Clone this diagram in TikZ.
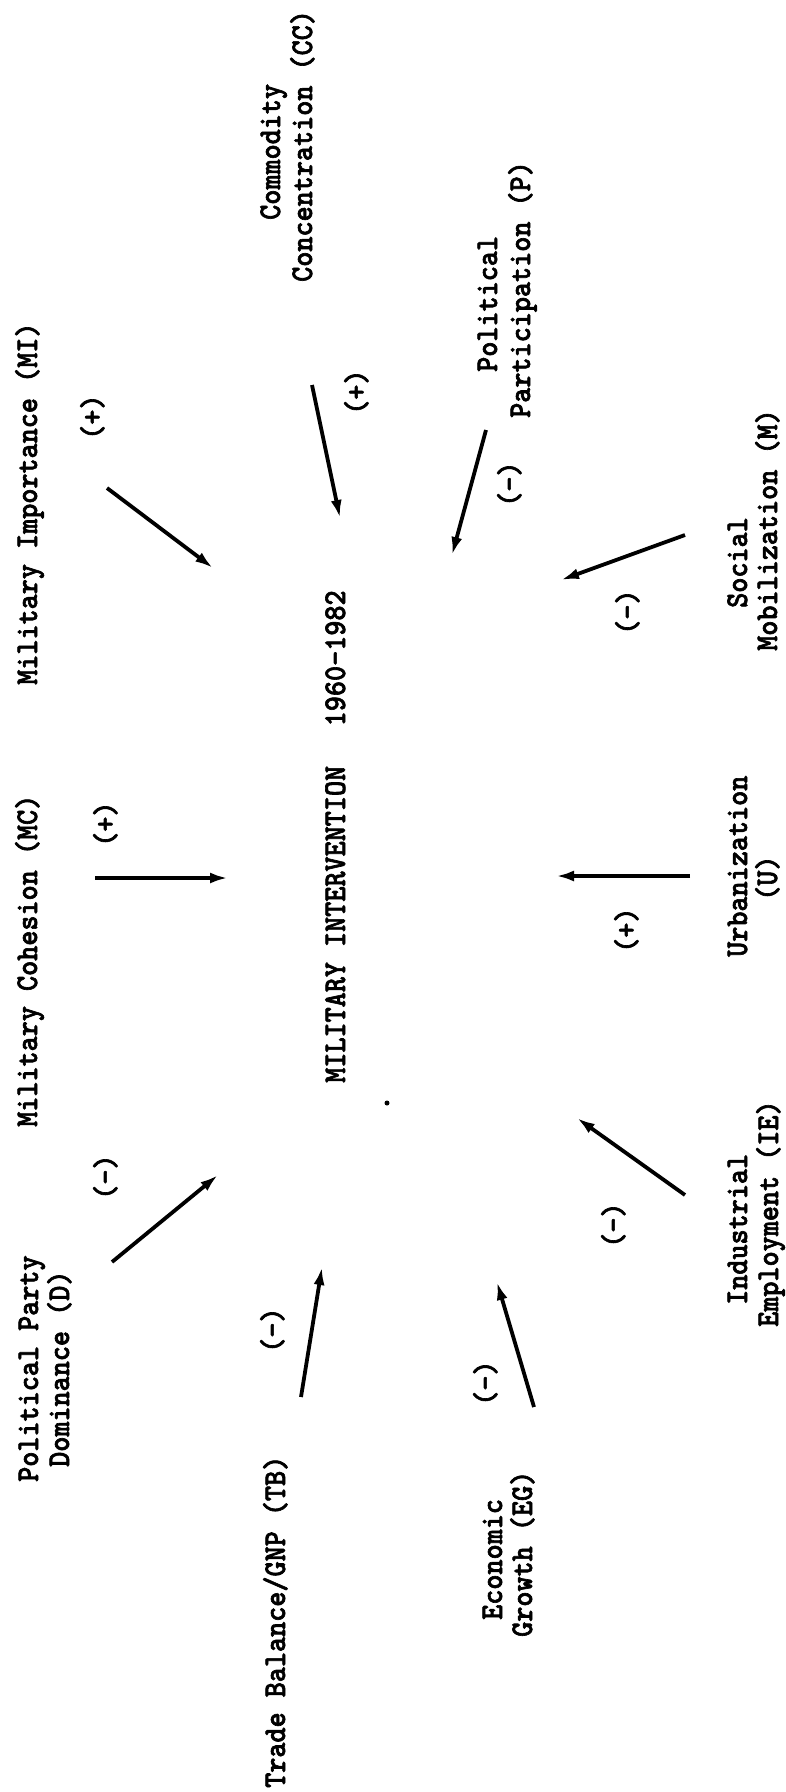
\documentclass[tikz,border=0pt]{standalone}
\usepackage{fontspec}
\newfontfamily\twfont{lmmonolt10-bold.otf}[FakeBold=2,FakeStretch=0.91]
\usetikzlibrary{arrows.meta}
\tikzset{
  lbl/.style={rotate=90, anchor=base west, inner sep=0pt,
    font=\twfont\fontsize{31.6}{34}\selectfont},
  link/.style={line width=3.8pt, -{Latex[length=18pt,width=11pt]}},
}
\begin{document}
\begin{tikzpicture}[x=1pt,y=-1pt]
\useasboundingbox (0,0) rectangle (785,1792);

% central outcome
\node[lbl] (mi) at (345,1083) {MILITARY INTERVENTION\hspace{1.25em}1960-1982};

% left-hand factors
\node[lbl] (imp)  at (37,685)  {Military Importance (MI)};
\node[lbl] (impS) at (102,440) {(+)};
\node[lbl] (coh)  at (37,1127) {Military Cohesion (MC)};
\node[lbl] (cohS) at (115,847) {(+)};
\node[lbl] (domA) at (38,1482) {Political Party};
\node[lbl] (domB) at (69,1467) {Dominance (D)};
\node[lbl] (domS) at (115,1200) {(-)};

% bottom factors
\node[lbl] (tb)   at (285,1788) {Trade Balance/GNP (TB)};
\node[lbl] (tbS)  at (282,1353) {(-)};
\node[lbl] (egA)  at (502,1620) {Economic};
\node[lbl] (egB)  at (532,1637) {Growth (EG)};
\node[lbl] (egS)  at (495,1406) {(-)};

% right-hand factors
\node[lbl] (ieA)  at (747,1305) {Industrial};
\node[lbl] (ieB)  at (778,1327) {Employment (IE)};
\node[lbl] (ieS)  at (623,1248) {(-)};
\node[lbl] (urA)  at (747,957)  {Urbanization};
\node[lbl] (urB)  at (777,901)  {(U)};
\node[lbl] (urS)  at (636,953)  {(+)};
\node[lbl] (smA)  at (747,608)  {Social};
\node[lbl] (smB)  at (777,651)  {Mobilization (M)};
\node[lbl] (smS)  at (637,635)  {(-)};

% top factors
\node[lbl] (ppA)  at (497,372)  {Political};
\node[lbl] (ppB)  at (530,418)  {Participation (P)};
\node[lbl] (ppS)  at (519,507)  {(-)};
\node[lbl] (ccA)  at (280,220)  {Commodity};
\node[lbl] (ccB)  at (312,282)  {Concentration (CC)};
\node[lbl] (ccS)  at (366,415)  {(+)};

% arrow end points
\coordinate (impT) at (107,488);  \coordinate (impH) at (213,568);
\coordinate (ccT)  at (312,385);  \coordinate (ccH)  at (340,518);
\coordinate (ppT)  at (486,430);  \coordinate (ppH)  at (452,555);
\coordinate (smT)  at (685,535);  \coordinate (smH)  at (561,580);
\coordinate (cohT) at (95,878);   \coordinate (cohH) at (228,878);
\coordinate (urT)  at (690,876);  \coordinate (urH)  at (556,876);
\coordinate (ieT)  at (685,1195); \coordinate (ieH)  at (577,1118);
\coordinate (egT)  at (534,1407); \coordinate (egH)  at (497,1282);
\coordinate (tbT)  at (301,1397); \coordinate (tbH)  at (322,1267);
\coordinate (domT) at (112,1262); \coordinate (domH) at (218,1175);

% causal links
\draw[link] (impT) -- (impH);
\draw[link] (ccT)  -- (ccH);
\draw[link] (ppT)  -- (ppH);
\draw[link] (smT)  -- (smH);
\draw[link] (cohT) -- (cohH);
\draw[link] (urT)  -- (urH);
\draw[link] (ieT)  -- (ieH);
\draw[link] (egT)  -- (egH);
\draw[link] (tbT)  -- (tbH);
\draw[link] (domT) -- (domH);

% stray dot
\fill (387,1103) circle (2.5pt);
\end{tikzpicture}
\end{document}
